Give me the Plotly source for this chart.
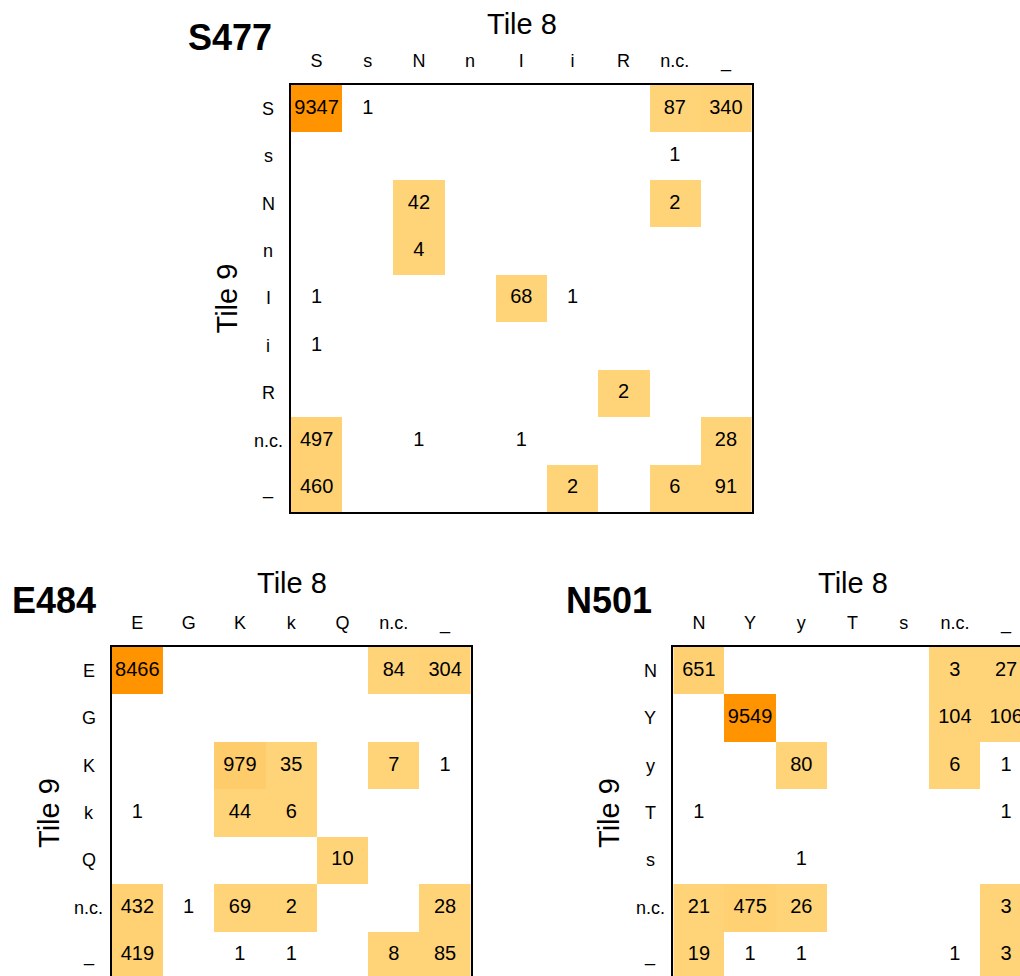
import plotly.graph_objects as go

W, H = 1020, 976
FONT = "Liberation Sans, Helvetica, Arial, sans-serif"
LOW, HIGH = "#FFD479", "#FF9300"

# Codon calls at each position: rows = Tile 9, columns = Tile 8
s477_labels = ["S", "s", "N", "n", "I", "i", "R", "n.c.", "_"]
s477_counts = [
    [9347, 1, 0, 0, 0, 0, 0, 87, 340],
    [0, 0, 0, 0, 0, 0, 0, 1, 0],
    [0, 0, 42, 0, 0, 0, 0, 2, 0],
    [0, 0, 4, 0, 0, 0, 0, 0, 0],
    [1, 0, 0, 0, 68, 1, 0, 0, 0],
    [1, 0, 0, 0, 0, 0, 0, 0, 0],
    [0, 0, 0, 0, 0, 0, 2, 0, 0],
    [497, 0, 1, 0, 1, 0, 0, 0, 28],
    [460, 0, 0, 0, 0, 2, 0, 6, 91],
]

e484_labels = ["E", "G", "K", "k", "Q", "n.c.", "_"]
e484_counts = [
    [8466, 0, 0, 0, 0, 84, 304],
    [0, 0, 0, 0, 0, 0, 0],
    [0, 0, 979, 35, 0, 7, 1],
    [1, 0, 44, 6, 0, 0, 0],
    [0, 0, 0, 0, 10, 0, 0],
    [432, 1, 69, 2, 0, 0, 28],
    [419, 0, 1, 1, 0, 8, 85],
]

n501_labels = ["N", "Y", "y", "T", "s", "n.c.", "_"]
n501_counts = [
    [651, 0, 0, 0, 0, 3, 27],
    [0, 9549, 0, 0, 0, 104, 106],
    [0, 0, 80, 0, 0, 6, 1],
    [1, 0, 0, 0, 0, 0, 1],
    [0, 0, 1, 0, 0, 0, 0],
    [21, 475, 26, 0, 0, 0, 3],
    [19, 1, 1, 0, 0, 1, 3],
]

panels = [
    dict(name="S477", labels=s477_labels, counts=s477_counts,
         left=291, top=85, cw=51.17, ch=47.44,
         mirror_x=True, mirror_y=True,
         title=(230, 38), tile8=(521.5, 24.5), tile9=(226, 298.5)),
    dict(name="E484", labels=e484_labels, counts=e484_counts,
         left=111.7, top=647, cw=51.29, ch=47.43,
         mirror_x=False, mirror_y=True,
         title=(54, 600.5), tile8=(291.5, 583), tile9=(49, 813)),
    dict(name="N501", labels=n501_labels, counts=n501_counts,
         left=673.3, top=647, cw=51.2, ch=47.43,
         mirror_x=False, mirror_y=False,
         title=(609, 600.5), tile8=(852.5, 583), tile9=(609, 813)),
]


def px(xp):
    return xp / W


def py(yp):
    return 1 - yp / H


fig = go.Figure()
layout = dict(
    width=W, height=H,
    margin=dict(l=0, r=0, t=0, b=0),
    paper_bgcolor="white", plot_bgcolor="white",
    showlegend=False,
    font=dict(family=FONT, color="black"),
)
annotations = []

for k, p in enumerate(panels, start=1):
    n = len(p["labels"])
    sfx = "" if k == 1 else str(k)
    xa, ya = "x" + sfx, "y" + sfx

    right = min(p["left"] + n * p["cw"], W)
    bottom = min(p["top"] + n * p["ch"], H)
    x_hi = -0.5 + (right - p["left"]) / p["cw"]
    y_hi = -0.5 + (bottom - p["top"]) / p["ch"]

    zmax = max(max(r) for r in p["counts"])
    z = [[v if v >= 2 else None for v in r] for r in p["counts"]]
    fig.add_trace(go.Heatmap(
        z=z, x=list(range(n)), y=list(range(n)),
        xaxis=xa, yaxis=ya,
        zmin=0, zmax=zmax,
        colorscale=[[0, LOW], [1, HIGH]],
        showscale=False, hoverinfo="skip", xgap=0, ygap=0,
    ))

    tx, ty, tt = [], [], []
    for i, row in enumerate(p["counts"]):
        for j, v in enumerate(row):
            if v > 0:
                tx.append(j)
                ty.append(i)
                tt.append(str(v))
    fig.add_trace(go.Scatter(
        x=tx, y=ty, text=tt, mode="text",
        xaxis=xa, yaxis=ya,
        textfont=dict(size=20, color="black", family=FONT),
        hoverinfo="skip", cliponaxis=True,
    ))

    layout["xaxis" + sfx] = dict(
        domain=[px(p["left"]), px(right)], anchor=ya,
        range=[-0.5, x_hi], side="top",
        tickvals=list(range(n)), ticktext=p["labels"],
        ticks="outside", ticklen=9, tickcolor="rgba(0,0,0,0)",
        tickfont=dict(size=18, color="black", family=FONT),
        showline=True, linecolor="black", linewidth=2,
        mirror=p["mirror_x"], showgrid=False, zeroline=False,
        fixedrange=True,
    )
    layout["yaxis" + sfx] = dict(
        domain=[py(bottom), py(p["top"])], anchor=xa,
        range=[y_hi, -0.5],
        showticklabels=False, ticks="",
        showline=True, linecolor="black", linewidth=2,
        mirror=p["mirror_y"], showgrid=False, zeroline=False,
        fixedrange=True,
    )

    # Row labels centred to the left of the box
    for i, lab in enumerate(p["labels"]):
        annotations.append(dict(
            xref=xa, yref=ya, x=-0.5, y=i, xshift=-23,
            text=lab, showarrow=False, xanchor="center", yanchor="middle",
            font=dict(size=18, color="black", family=FONT),
        ))

    annotations.append(dict(
        xref="paper", yref="paper", x=px(p["title"][0]), y=py(p["title"][1]),
        text="<b>%s</b>" % p["name"], showarrow=False,
        xanchor="center", yanchor="middle",
        font=dict(size=36, color="black", family=FONT),
    ))
    annotations.append(dict(
        xref="paper", yref="paper", x=px(p["tile8"][0]), y=py(p["tile8"][1]),
        text="Tile 8", showarrow=False, xanchor="center", yanchor="middle",
        font=dict(size=29, color="black", family=FONT),
    ))
    annotations.append(dict(
        xref="paper", yref="paper", x=px(p["tile9"][0]), y=py(p["tile9"][1]),
        text="Tile 9", showarrow=False, textangle=-90,
        xanchor="center", yanchor="middle",
        font=dict(size=29, color="black", family=FONT),
    ))

layout["annotations"] = annotations
fig.update_layout(**layout)
fig.write_html("out.html", config={"displayModeBar": False})
